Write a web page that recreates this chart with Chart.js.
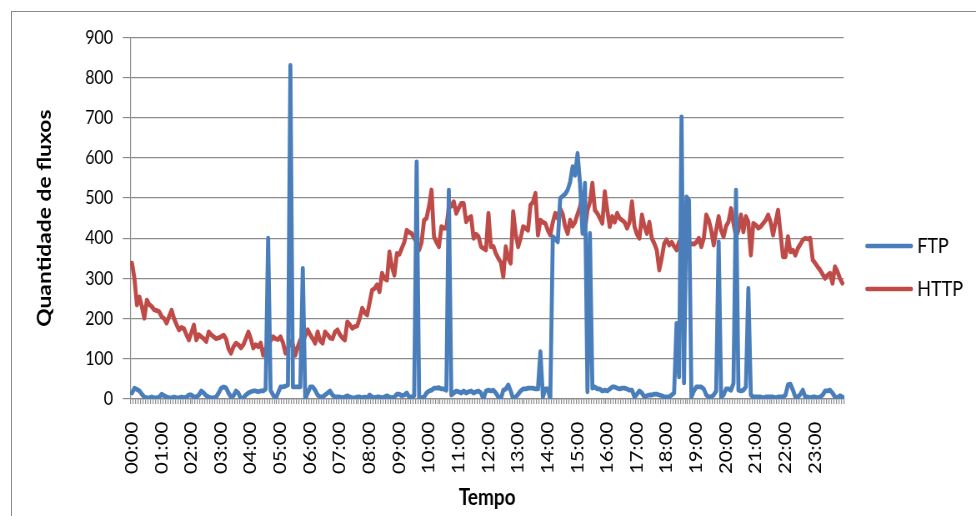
<!DOCTYPE html>
<html>
<head>
<meta charset="utf-8">
<title>Fluxos FTP e HTTP</title>
<script src="https://cdn.jsdelivr.net/npm/chart.js@4.4.1/dist/chart.umd.min.js"></script>
<style>
  html, body { margin: 0; padding: 0; background: #fff; overflow: hidden; }
  #moldura { position: absolute; left: 11px; top: 11px; width: 1000px; height: 600px; border: 1.5px solid #8a8a8a; }
  /* a figura original esta esticada na vertical */
  #caixa { position: absolute; left: 0; top: 0; width: 976px; height: 430px; transform: scaleY(1.2); transform-origin: 0 0; }
</style>
</head>
<body>
<div id="moldura"></div>
<div id="caixa"><canvas id="grafico"></canvas></div>
<script>
// rotulos das horas (um a cada 12 amostras de 5 minutos)
const horas = ["00:00","01:00","02:00","03:00","04:00","05:00","06:00","07:00","08:00","09:00","10:00","11:00",
               "12:00","13:00","14:00","15:00","16:00","17:00","18:00","19:00","20:00","21:00","22:00","23:00"];
const minutos = ["00","05","10","15","20","25","30","35","40","45","50","55"];

// quantidade de fluxos FTP, uma linha por hora
const ftp = [
  15, 27, 24, 20, 12, 5, 3, 3, 5, 3, 3, 5,
  12, 8, 5, 3, 3, 5, 3, 3, 5, 3, 5, 10,
  10, 5, 5, 10, 20, 15, 8, 5, 3, 3, 5, 15,
  27, 30, 28, 15, 5, 8, 20, 15, 0, 3, 10, 15,
  18, 20, 20, 18, 20, 20, 25, 400, 22, 10, 0, 15,
  30, 30, 32, 35, 830, 30, 30, 30, 30, 325, 0, 15,
  30, 30, 22, 10, 5, 5, 10, 15, 20, 10, 5, 5,
  5, 3, 5, 8, 5, 3, 3, 5, 5, 3, 5, 3,
  10, 5, 3, 5, 5, 3, 5, 8, 5, 3, 5, 12,
  12, 8, 10, 15, 5, 5, 8, 590, 5, 3, 5, 15,
  20, 22, 27, 27, 28, 25, 25, 22, 520, 10, 15, 20,
  18, 15, 20, 15, 18, 20, 15, 18, 20, 15, 0, 20,
  22, 20, 22, 15, 5, 0, 22, 25, 35, 20, 0, 5,
  12, 20, 25, 25, 27, 27, 27, 25, 25, 118, 5, 25,
  25, 0, 404, 398, 391, 499, 505, 510, 520, 540, 578, 557,
  611, 537, 412, 537, 18, 412, 27, 30, 25, 25, 20, 22,
  20, 25, 30, 30, 27, 25, 27, 27, 25, 22, 22, 5,
  12, 20, 15, 5, 8, 10, 10, 12, 12, 10, 8, 5,
  5, 5, 10, 15, 188, 55, 702, 40, 503, 495, 5, 20,
  30, 30, 30, 25, 10, 5, 5, 10, 20, 391, 5, 10,
  25, 25, 22, 39, 520, 22, 20, 22, 30, 275, 10, 5,
  5, 5, 5, 3, 5, 5, 5, 5, 3, 5, 5, 5,
  10, 35, 37, 22, 5, 5, 12, 22, 5, 5, 3, 5,
  5, 3, 5, 10, 20, 20, 22, 15, 5, 3, 8, 5
];

// quantidade de fluxos HTTP, uma linha por hora
const http = [
  338, 300, 234, 254, 230, 201, 246, 235, 230, 222, 220, 217,
  205, 200, 189, 205, 221, 200, 185, 172, 178, 175, 160, 147,
  165, 184, 147, 160, 155, 150, 143, 167, 160, 155, 150, 152,
  155, 159, 150, 125, 114, 130, 139, 135, 127, 135, 150, 167,
  150, 127, 135, 130, 139, 109, 125, 139, 145, 155, 150, 148,
  155, 140, 114, 125, 143, 135, 109, 130, 147, 140, 158, 172,
  160, 150, 139, 167, 145, 139, 167, 160, 152, 150, 167, 172,
  160, 152, 147, 192, 185, 176, 180, 182, 201, 226, 215, 209,
  240, 271, 275, 284, 267, 313, 300, 296, 366, 330, 308, 362,
  360, 375, 390, 420, 415, 412, 400, 391, 371, 390, 445, 450,
  480, 520, 404, 390, 379, 429, 425, 425, 478, 480, 491, 462,
  475, 487, 487, 441, 450, 454, 400, 410, 404, 379, 375, 371,
  462, 379, 380, 362, 350, 340, 304, 379, 350, 338, 466, 412,
  379, 400, 429, 425, 420, 483, 490, 512, 408, 445, 440, 437,
  420, 408, 440, 462, 450, 474, 460, 429, 412, 445, 430, 440,
  460, 478, 512, 420, 470, 490, 537, 470, 462, 450, 437, 516,
  470, 429, 454, 440, 462, 450, 445, 440, 425, 440, 491, 429,
  410, 400, 458, 430, 412, 440, 400, 387, 371, 321, 350, 387,
  396, 383, 390, 380, 371, 391, 360, 313, 379, 380, 387, 385,
  390, 400, 379, 400, 458, 445, 420, 383, 420, 454, 420, 404,
  430, 441, 474, 437, 404, 420, 458, 416, 454, 440, 358, 437,
  433, 425, 429, 437, 445, 458, 440, 408, 440, 470, 412, 354,
  354, 404, 366, 370, 358, 375, 385, 396, 400, 398, 400, 346,
  338, 329, 321, 310, 300, 308, 313, 288, 329, 317, 300, 288
];

const categorias = [];
horas.forEach((h) => {
  minutos.forEach((m) => categorias.push(h.slice(0, 3) + m));
});

const cinza = "#8c8c8c";
const fonte = "Lato";

// legenda desenhada a direita, como no Excel
const legendaDireita = {
  id: "legendaDireita",
  afterDraw(chart) {
    const ctx = chart.ctx;
    const linhasY = [205, 240.8];
    ctx.save();
    chart.data.datasets.forEach((ds, i) => {
      ctx.strokeStyle = ds.borderColor;
      ctx.lineWidth = 3.8;
      ctx.lineCap = "round";
      ctx.beginPath();
      ctx.moveTo(867, linhasY[i]);
      ctx.lineTo(911, linhasY[i]);
      ctx.stroke();
      ctx.fillStyle = "#000";
      ctx.font = "18px " + fonte;
      ctx.textBaseline = "middle";
      ctx.fillText(ds.label, 917, linhasY[i]);
    });
    ctx.restore();
  }
};

new Chart(document.getElementById("grafico"), {
  type: "line",
  data: {
    labels: categorias,
    datasets: [
      { label: "FTP", data: ftp, borderColor: "#4a7ebb", backgroundColor: "#4a7ebb" },
      { label: "HTTP", data: http, borderColor: "#be4b48", backgroundColor: "#be4b48" }
    ]
  },
  options: {
    responsive: true,
    maintainAspectRatio: false,
    animation: false,
    devicePixelRatio: 1.2,
    layout: { padding: { top: 31.1, right: 132.5, bottom: 0, left: 0 } },
    elements: {
      point: { radius: 0 },
      line: { borderWidth: 4, tension: 0, borderJoinStyle: "round", borderCapStyle: "round" }
    },
    plugins: { legend: { display: false }, tooltip: { enabled: false } },
    scales: {
      x: {
        offset: true,
        grid: { offset: true, drawOnChartArea: false, drawTicks: true, tickLength: 4.2, color: cinza },
        border: { color: cinza, width: 1 },
        ticks: {
          autoSkip: false,
          minRotation: 90,
          maxRotation: 90,
          padding: 14.7,
          color: "#000",
          font: { family: fonte, size: 17 },
          callback(v, i) {
            return i % 12 === 0 ? this.getLabelForValue(v) : "";
          }
        },
        title: {
          display: true,
          text: "Tempo",
          color: "#000",
          font: { family: fonte, size: 19, weight: "bold" },
          padding: { top: 0, bottom: 3.6 }
        },
        afterFit(s) { s.height = 97.5; }
      },
      y: {
        min: 0,
        max: 900,
        ticks: { stepSize: 100, padding: 9.7, color: "#000", font: { family: fonte, size: 16 } },
        grid: { color: cinza, tickLength: 8 },
        border: { color: cinza, width: 1 },
        title: {
          display: true,
          text: "Quantidade de fluxos",
          color: "#000",
          font: { family: fonte, size: 19, weight: "bold" },
          padding: { top: 33.6, bottom: 0 }
        },
        afterFit(s) { s.width = 130.7; }
      }
    }
  },
  plugins: [legendaDireita]
});
</script>
</body>
</html>
